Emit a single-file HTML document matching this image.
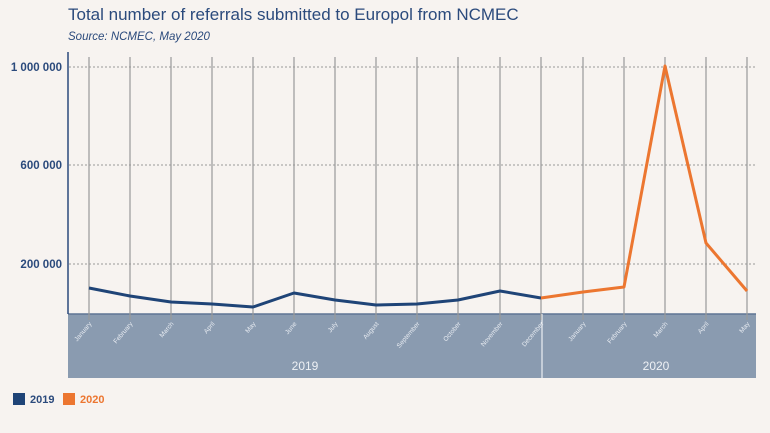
<!DOCTYPE html>
<html><head><meta charset="utf-8"><style>
html,body{margin:0;padding:0;background:#f7f3f0;}
svg{display:block;font-family:"Liberation Sans",sans-serif;}
</style></head><body>
<svg width="770" height="433" viewBox="0 0 770 433">
<rect width="770" height="433" fill="#f7f3f0"/>
<text x="68" y="20" font-size="17" fill="#2b4a7c">Total number of referrals submitted to Europol from NCMEC</text>
<text x="68" y="40" font-size="11.5" font-style="italic" fill="#2b4a7c">Source: NCMEC, May 2020</text>
<g stroke="#999" stroke-width="1" stroke-dasharray="2,2">
<line x1="69" y1="67" x2="756" y2="67"/>
<line x1="69" y1="165" x2="756" y2="165"/>
<line x1="69" y1="264" x2="756" y2="264"/>
</g>
<g font-size="11.5" font-weight="bold" fill="#2b4a7c" text-anchor="end">
<text x="62" y="71">1 000 000</text>
<text x="62" y="169">600 000</text>
<text x="62" y="268">200 000</text>
</g>
<rect x="68" y="314" width="688" height="64" fill="#8a9bb0"/>
<line x1="68" y1="314" x2="756" y2="314" stroke="#5f7594" stroke-width="1.5"/>
<line x1="542" y1="314" x2="542" y2="378" stroke="#fff" stroke-width="1"/>
<g stroke="#999" stroke-width="1.2" id="vl">
<line x1="89" y1="57" x2="89" y2="320"/><line x1="130" y1="57" x2="130" y2="320"/>
<line x1="171" y1="57" x2="171" y2="320"/><line x1="212" y1="57" x2="212" y2="320"/>
<line x1="253" y1="57" x2="253" y2="320"/><line x1="294" y1="57" x2="294" y2="320"/>
<line x1="335" y1="57" x2="335" y2="320"/><line x1="376" y1="57" x2="376" y2="320"/>
<line x1="417" y1="57" x2="417" y2="320"/><line x1="458" y1="57" x2="458" y2="320"/>
<line x1="500" y1="57" x2="500" y2="320"/><line x1="541" y1="57" x2="541" y2="320"/>
<line x1="583" y1="57" x2="583" y2="320"/><line x1="624" y1="57" x2="624" y2="320"/>
<line x1="665" y1="57" x2="665" y2="320"/><line x1="706" y1="57" x2="706" y2="320"/>
<line x1="747" y1="57" x2="747" y2="320"/>
</g>
<line x1="68" y1="52" x2="68" y2="314" stroke="#2b4a7c" stroke-width="1.5"/>
<g font-size="6.5" fill="#e8ecf2" text-anchor="end">
<text transform="translate(92,324) rotate(-50)">January</text>
<text transform="translate(133,324) rotate(-50)">February</text>
<text transform="translate(174,324) rotate(-50)">March</text>
<text transform="translate(215,324) rotate(-50)">April</text>
<text transform="translate(256,324) rotate(-50)">May</text>
<text transform="translate(297,324) rotate(-50)">June</text>
<text transform="translate(338,324) rotate(-50)">July</text>
<text transform="translate(379,324) rotate(-50)">August</text>
<text transform="translate(420,324) rotate(-50)">September</text>
<text transform="translate(461,324) rotate(-50)">October</text>
<text transform="translate(503,324) rotate(-50)">November</text>
<text transform="translate(544,324) rotate(-50)">December</text>
<text transform="translate(586,324) rotate(-50)">January</text>
<text transform="translate(627,324) rotate(-50)">February</text>
<text transform="translate(668,324) rotate(-50)">March</text>
<text transform="translate(709,324) rotate(-50)">April</text>
<text transform="translate(750,324) rotate(-50)">May</text>
</g>
<text x="305" y="370" font-size="12" fill="#eef1f5" text-anchor="middle">2019</text>
<text x="656" y="370" font-size="12" fill="#eef1f5" text-anchor="middle">2020</text>
<polyline fill="none" stroke="#1f4477" stroke-width="3" stroke-linejoin="round" points="89,288 130,296 171,302 212,304 253,307 294,293 335,300 376,305 417,304 458,300 500,291 541,298"/>
<polyline fill="none" stroke="#ec7630" stroke-width="3" stroke-linejoin="round" points="541,298 583,292 624,287 665,66 706,243 747,291"/>
<rect x="13" y="393" width="12" height="12" fill="#1f4477"/>
<text x="30" y="403" font-size="11" font-weight="bold" fill="#2b4a7c">2019</text>
<rect x="63" y="393" width="12" height="12" fill="#ec7630"/>
<text x="80" y="403" font-size="11" font-weight="bold" fill="#ec7630">2020</text>
</svg>
</body></html>
